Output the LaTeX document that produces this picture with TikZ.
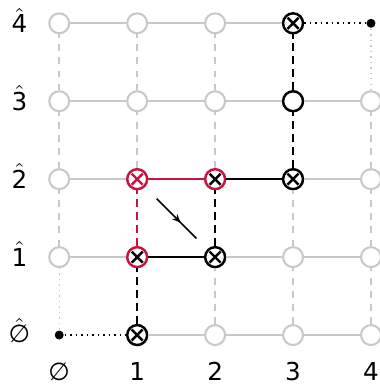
\documentclass[tikz,border=0pt]{standalone}
\usepackage{fontspec}
\setmainfont{DejaVu Sans}
\usetikzlibrary{calc,arrows.meta,decorations.markings}
\definecolor{grid}{RGB}{200,200,200}
\definecolor{hot}{RGB}{200,20,60}
\tikzset{
	site/.style = {circle, draw=grid, line width=0.75pt, fill=white, minimum size=0.256cm, inner sep=0pt},
	on/.style = {site, draw=black, line width=0.9pt},
	hotsite/.style = {site, draw=hot, line width=0.9pt},
	endpt/.style = {circle, draw=none, fill=black, minimum size=0.115cm, inner sep=0pt},
	cross/.style = {path picture={\draw[#1, line width=0.9pt]
		($(path picture bounding box.center)+(45:0.1)$) -- ($(path picture bounding box.center)+(225:0.1)$)
		($(path picture bounding box.center)+(135:0.1)$) -- ($(path picture bounding box.center)+(-45:0.1)$);}},
	rung/.style = {grid, line width=0.75pt},
	leg/.style = {grid, line width=0.75pt, dash pattern=on 2.4pt off 2.4pt},
	faint/.style = {grid, line width=0.5pt, dash pattern=on 0.5pt off 1.5pt},
	hop/.style = {black, line width=0.7pt, dash pattern=on 0.6pt off 1.4pt},
	jump/.style = {line width=0.8pt, dash pattern=on 2.9pt off 1.8pt},
	lab/.style = {font=\small, inner sep=1pt},
	% which sites are picked out
	st00/.style = {endpt}, st44/.style = {endpt},
	st10/.style = {on, cross=black}, st21/.style = {on, cross=black},
	st32/.style = {on, cross=black}, st34/.style = {on, cross=black},
	st33/.style = {on},
	st11/.style = {hotsite, cross=black}, st22/.style = {hotsite, cross=black},
	st12/.style = {hotsite, cross=hot},
}

\begin{document}
\begin{tikzpicture}[x=1cm, y=1cm]
	\useasboundingbox (-0.76,-0.628) rectangle (4.111,4.299);
	\foreach \i in {0,...,4}
		\foreach \j in {0,...,4}
			\node[site, st\i\j/.try] (s\i\j) at (\i,\j) {};
	% grey lattice
	\foreach \a/\b in {s10/s20, s20/s30, s30/s40, s01/s11, s21/s31, s31/s41, s02/s12, s32/s42,
		s03/s13, s13/s23, s23/s33, s33/s43, s04/s14, s14/s24, s24/s34}
		\draw[rung] (\a) -- (\b);
	\foreach \a/\b in {s01/s02, s02/s03, s03/s04, s12/s13, s13/s14, s20/s21, s22/s23, s23/s24,
		s30/s31, s31/s32, s40/s41, s41/s42, s42/s43}
		\draw[leg] (\a) -- (\b);
	\draw[faint] (s00) -- (s01);
	\draw[faint] (s44) -- (s43);
	% the path
	\draw[hop] (s00) -- (s10);
	\draw[jump] (s10) -- (s11);
	\draw[line width=0.8pt] (s11) -- (s21);
	\draw[jump] (s21) -- (s22);
	\draw[line width=0.8pt] (s22) -- (s32);
	\draw[jump] (s32) -- (s33);
	\draw[jump] (s33) -- (s34);
	\draw[hop] (s34) -- (s44);
	\draw[hot, jump] (s11) -- (s12);
	\draw[hot, line width=0.8pt] (s12) -- (s22);
	% plaquette arrow
	\coordinate (a0) at (1.25,1.75);
	\coordinate (a1) at (1.76,1.24);
	\draw[line width=0.6pt, decoration={markings, mark=at position 0.6 with {\arrow{Stealth[length=3pt,width=2.6pt]}}}, postaction={decorate}] (a0) -- (a1);
	% labels
	\node[lab] (c0) at (0,-0.47) {∅};
	\node[lab] (c1) at (1,-0.47) {1};
	\node[lab] (c2) at (2,-0.47) {2};
	\node[lab] (c3) at (3,-0.47) {3};
	\node[lab] (c4) at (4,-0.47) {4};
	\node[lab] (r0) at (-0.51,0.06) {$\hat{\mbox{∅}}$};
	\node[lab] (r1) at (-0.51,1.04) {$\hat{\mbox{1}}$};
	\node[lab] (r2) at (-0.51,2.04) {$\hat{\mbox{2}}$};
	\node[lab] (r3) at (-0.51,3.04) {$\hat{\mbox{3}}$};
	\node[lab] (r4) at (-0.51,4.04) {$\hat{\mbox{4}}$};
\end{tikzpicture}
\end{document}
